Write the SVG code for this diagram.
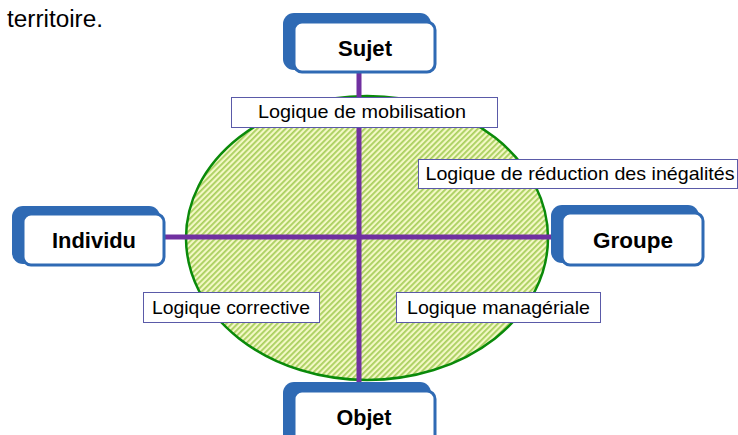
<svg xmlns="http://www.w3.org/2000/svg" width="738" height="435" viewBox="0 0 738 435">
  <defs>
    <pattern id="hatch" width="4" height="4" patternUnits="userSpaceOnUse" patternTransform="rotate(45)">
      <rect width="4" height="4" fill="#f3f8c6"/>
      <rect width="1.8" height="4" fill="#a9cf5e"/>
    </pattern>
  </defs>
  <style>
    .back { fill: #2f6ab4; }
    .front { fill: #ffffff; stroke: #2f6ab4; stroke-width: 3; }
    .node-text { font-family: "Liberation Sans", Arial, sans-serif; font-weight: bold; font-size: 22px; fill: #000; text-anchor: middle; }
    .lbl-box { fill: #ffffff; stroke: #5a5aa8; stroke-width: 1; }
    .lbl-text { font-family: "Liberation Sans", Arial, sans-serif; font-size: 18.5px; fill: #000; text-anchor: middle; }
    .axis { stroke: #7030a0; stroke-width: 5; fill: none; }
  </style>

  <rect width="738" height="435" fill="#ffffff"/>
  <text x="7" y="27" font-family="Liberation Sans, Arial, sans-serif" font-size="23" fill="#000" textLength="96" lengthAdjust="spacingAndGlyphs">territoire.</text>

  <!-- central ellipse -->
  <g id="ellipse">
    <ellipse cx="367" cy="238" rx="181" ry="142" fill="url(#hatch)" stroke="#0a8a0a" stroke-width="2.5"/>
  </g>

  <!-- axes -->
  <g id="connectors">
    <line class="axis" x1="164" y1="237" x2="558" y2="237"/>
    <line class="axis" x1="359" y1="70" x2="359" y2="388"/>
  </g>

  <!-- nodes -->
  <g id="sujet">
    <rect class="back" x="283" y="13" width="148" height="57" rx="11"/>
    <rect class="front" x="294" y="22" width="141" height="50" rx="8"/>
    <text class="node-text" x="365" y="56" textLength="54" lengthAdjust="spacingAndGlyphs">Sujet</text>
  </g>
  <g id="individu">
    <rect class="back" x="12" y="206" width="148" height="58" rx="11"/>
    <rect class="front" x="23" y="214" width="141" height="51" rx="8"/>
    <text class="node-text" x="94" y="248" textLength="84" lengthAdjust="spacingAndGlyphs">Individu</text>
  </g>
  <g id="groupe">
    <rect class="back" x="551" y="205" width="148" height="58" rx="11"/>
    <rect class="front" x="562" y="213" width="141" height="52" rx="8"/>
    <text class="node-text" x="633" y="248" textLength="80" lengthAdjust="spacingAndGlyphs">Groupe</text>
  </g>
  <g id="objet">
    <rect class="back" x="283" y="382" width="148" height="70" rx="11"/>
    <rect class="front" x="294" y="391" width="141" height="60" rx="8"/>
    <text class="node-text" x="364" y="425" textLength="55" lengthAdjust="spacingAndGlyphs">Objet</text>
  </g>

  <!-- logic labels -->
  <g id="mobilisation">
    <rect class="lbl-box" x="231.5" y="97.5" width="266" height="30"/>
    <text class="lbl-text" x="362" y="118" textLength="208" lengthAdjust="spacingAndGlyphs">Logique de mobilisation</text>
  </g>
  <g id="reduction">
    <rect class="lbl-box" x="418.5" y="159.5" width="319" height="29"/>
    <text class="lbl-text" x="580" y="180" textLength="309" lengthAdjust="spacingAndGlyphs">Logique de réduction des inégalités</text>
  </g>
  <g id="corrective">
    <rect class="lbl-box" x="143.5" y="292.5" width="176" height="30"/>
    <text class="lbl-text" x="231" y="314" textLength="158" lengthAdjust="spacingAndGlyphs">Logique corrective</text>
  </g>
  <g id="manageriale">
    <rect class="lbl-box" x="396.5" y="292.5" width="204" height="30"/>
    <text class="lbl-text" x="498.5" y="314" textLength="183" lengthAdjust="spacingAndGlyphs">Logique managériale</text>
  </g>
</svg>
